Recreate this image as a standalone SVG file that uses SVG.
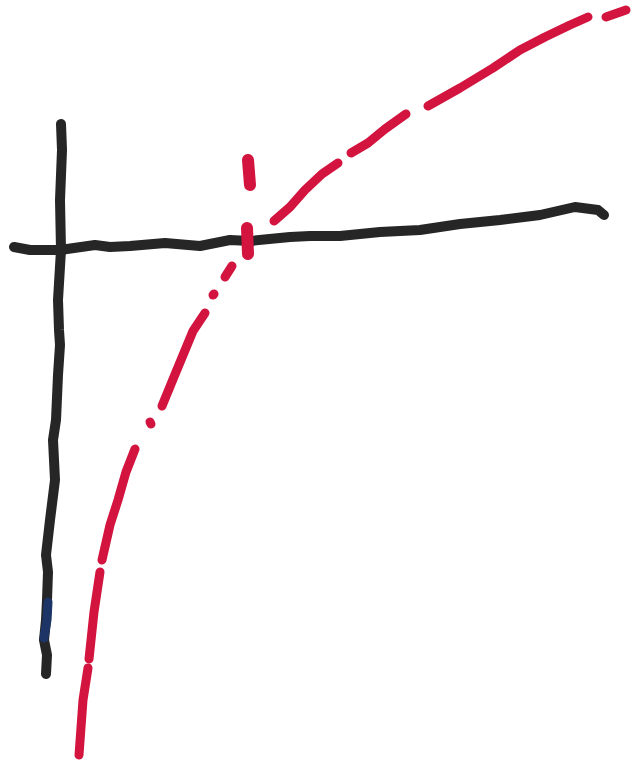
<svg xmlns="http://www.w3.org/2000/svg" width="632" height="763" viewBox="0 0 632 763">
<style>
.ax{fill:none;stroke:#262626;stroke-width:10;stroke-linecap:round;stroke-linejoin:round}
.rd{fill:none;stroke:#d2143f;stroke-width:9;stroke-linecap:round;stroke-linejoin:round}
</style>
<rect width="632" height="763" fill="#ffffff"/>
<g id="axes">
<path class="ax" d="M61,124 L62,150 L60,200 L61,250 L58,300 L59,330 L60,345 L58,375 L56,420 L53,440 L55,480 L50,520 L46,555 L48,572 L47,600 L46,620 L44,640 L47,655 L46,674"/>
<path fill="none" stroke="#1d3566" stroke-width="9" stroke-linecap="round" d="M48,602 L47,620 L44,638"/>
<path class="ax" d="M14,247 L30,250 L60,250 L95,245 L110,247 L130,246 L165,243 L200,246 L230,240 L250,241 L290,237 L310,236 L340,236 L380,232 L420,230 L460,224 L500,220 L540,215 L575,207 L598,210 L604,215"/>
</g>
<g id="curve">
<path class="rd" d="M79,755 L83,700 L88,668"/>
<path class="rd" d="M89,659 L94,612 L100,572"/>
<path class="rd" d="M102,560 L110,525 L118,500 L126,472 L135,449"/>
<path class="rd" d="M150,422 L151,424"/>
<path class="rd" d="M162,406 L176,372 L193,331 L205,313"/>
<path class="rd" d="M213,295 L214,294" stroke-width="6"/>
<path class="rd" d="M225,277 L232,266"/>
<path class="rd" d="M274,221 L290,207 L305,190 L322,174 L338,163"/>
<path class="rd" d="M351,153 L368,143 L385,129 L406,114"/>
<path class="rd" d="M428,106 L460,88 L493,68 L520,50 L545,37 L570,25 L588,17"/>
<path class="rd" d="M606,17 L626,10"/>
</g>
<g id="tick">
<path class="rd" style="stroke-width:12" d="M248,160 L250,185"/>
<path class="rd" style="stroke-width:12" d="M247,228 L248,254"/>
</g>
</svg>
